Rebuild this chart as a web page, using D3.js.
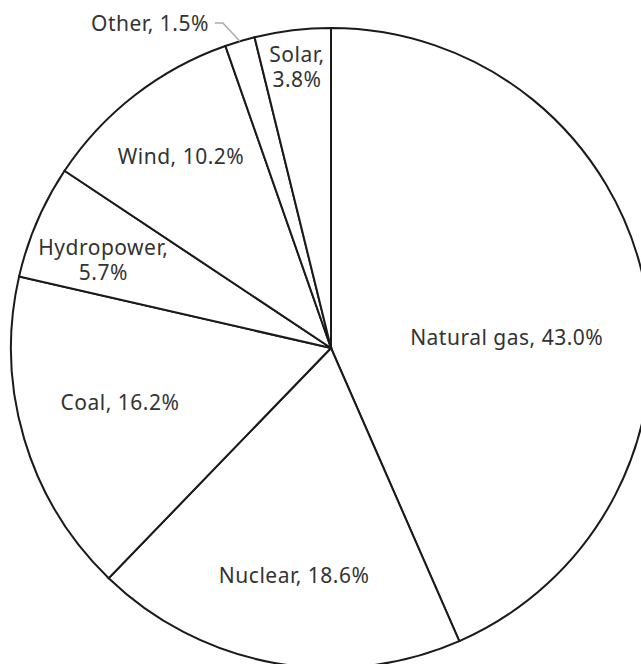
<!DOCTYPE html>
<html>
<head>
<meta charset="utf-8">
<script src="https://cdn.jsdelivr.net/npm/d3@7"></script>
<style>
  html, body { margin: 0; padding: 0; background: #fff; overflow: hidden; }
  svg { display: block; }
  text { font-family: "Noto Sans", "Liberation Sans", sans-serif; font-size: 21px; letter-spacing: 0.5px; fill: #333; }
</style>
</head>
<body>
<svg id="chart" width="641" height="664"></svg>
<script>
// Electricity generation share by source (percent)
const sources = ["Natural gas", "Nuclear", "Coal", "Hydropower", "Wind", "Other", "Solar"];
const shares  = [43.0, 18.6, 16.2, 5.7, 10.2, 1.5, 3.8];

const width = 641, height = 664;
const cx = 331, cy = 348, radius = 320;

const svg = d3.select("#chart");
const g = svg.append("g").attr("transform", `translate(${cx},${cy})`);

const data = sources.map((s, i) => ({ name: s, value: shares[i] }));

const pie = d3.pie().value(d => d.value).sort(null);
const arc = d3.arc().innerRadius(0).outerRadius(radius);
const arcs = pie(data);

g.selectAll("path.slice")
  .data(arcs)
  .join("path")
  .attr("class", "slice")
  .attr("d", arc)
  .attr("fill", "#fff")
  .attr("stroke", "#1a1a1a")
  .attr("stroke-width", 2)
  .attr("stroke-linejoin", "miter");

// Label placement: distance from centre and angular nudge (degrees) off the slice middle
const placement = {
  "Natural gas": { r: 176, nudge: 8.6 },
  "Nuclear":     { r: 231, nudge: -1 },
  "Coal":        { r: 218, nudge: 2.0 },
  "Hydropower":  { r: 244, nudge: -2.2 },
  "Wind":        { r: 243, nudge: -0.3 },
  "Solar":       { r: 283, nudge: 0 }
};

const fmt = v => `${v.toFixed(1)}%`;
const lineGap = 25;

arcs.forEach(a => {
  const name = a.data.name;
  if (name === "Other") return;
  const p = placement[name];
  const ang = (a.startAngle + a.endAngle) / 2 + p.nudge * Math.PI / 180;
  const x = Math.sin(ang) * p.r;
  const y = -Math.cos(ang) * p.r;
  const twoLines = name === "Hydropower" || name === "Solar";
  const lines = twoLines ? [`${name},`, fmt(a.data.value)] : [`${name}, ${fmt(a.data.value)}`];
  lines.forEach((txt, i) => {
    g.append("text")
      .attr("text-anchor", "middle")
      .attr("x", x)
      .attr("y", y + (i - (lines.length - 1) / 2) * lineGap)
      .attr("dy", "0.35em")
      .text(txt);
  });
});

// Outside label with a leader line for the thin "Other" slice
const other = arcs.find(a => a.data.name === "Other");
const midO = (other.startAngle + other.endAngle) / 2;
const edge = [Math.sin(midO) * radius, -Math.cos(midO) * radius];
const elbow = [edge[0] - 17, -325];
const tail = [elbow[0] - 8, elbow[1]];
g.append("polyline")
  .attr("points", [edge, elbow, tail].map(p => p.join(",")).join(" "))
  .attr("fill", "none")
  .attr("stroke", "#aaa")
  .attr("stroke-width", 1.5);
g.append("text")
  .attr("text-anchor", "end")
  .attr("x", tail[0] - 6)
  .attr("y", tail[1] + 1)
  .attr("dy", "0.35em")
  .text(`${other.data.name}, ${fmt(other.data.value)}`);
</script>
</body>
</html>
